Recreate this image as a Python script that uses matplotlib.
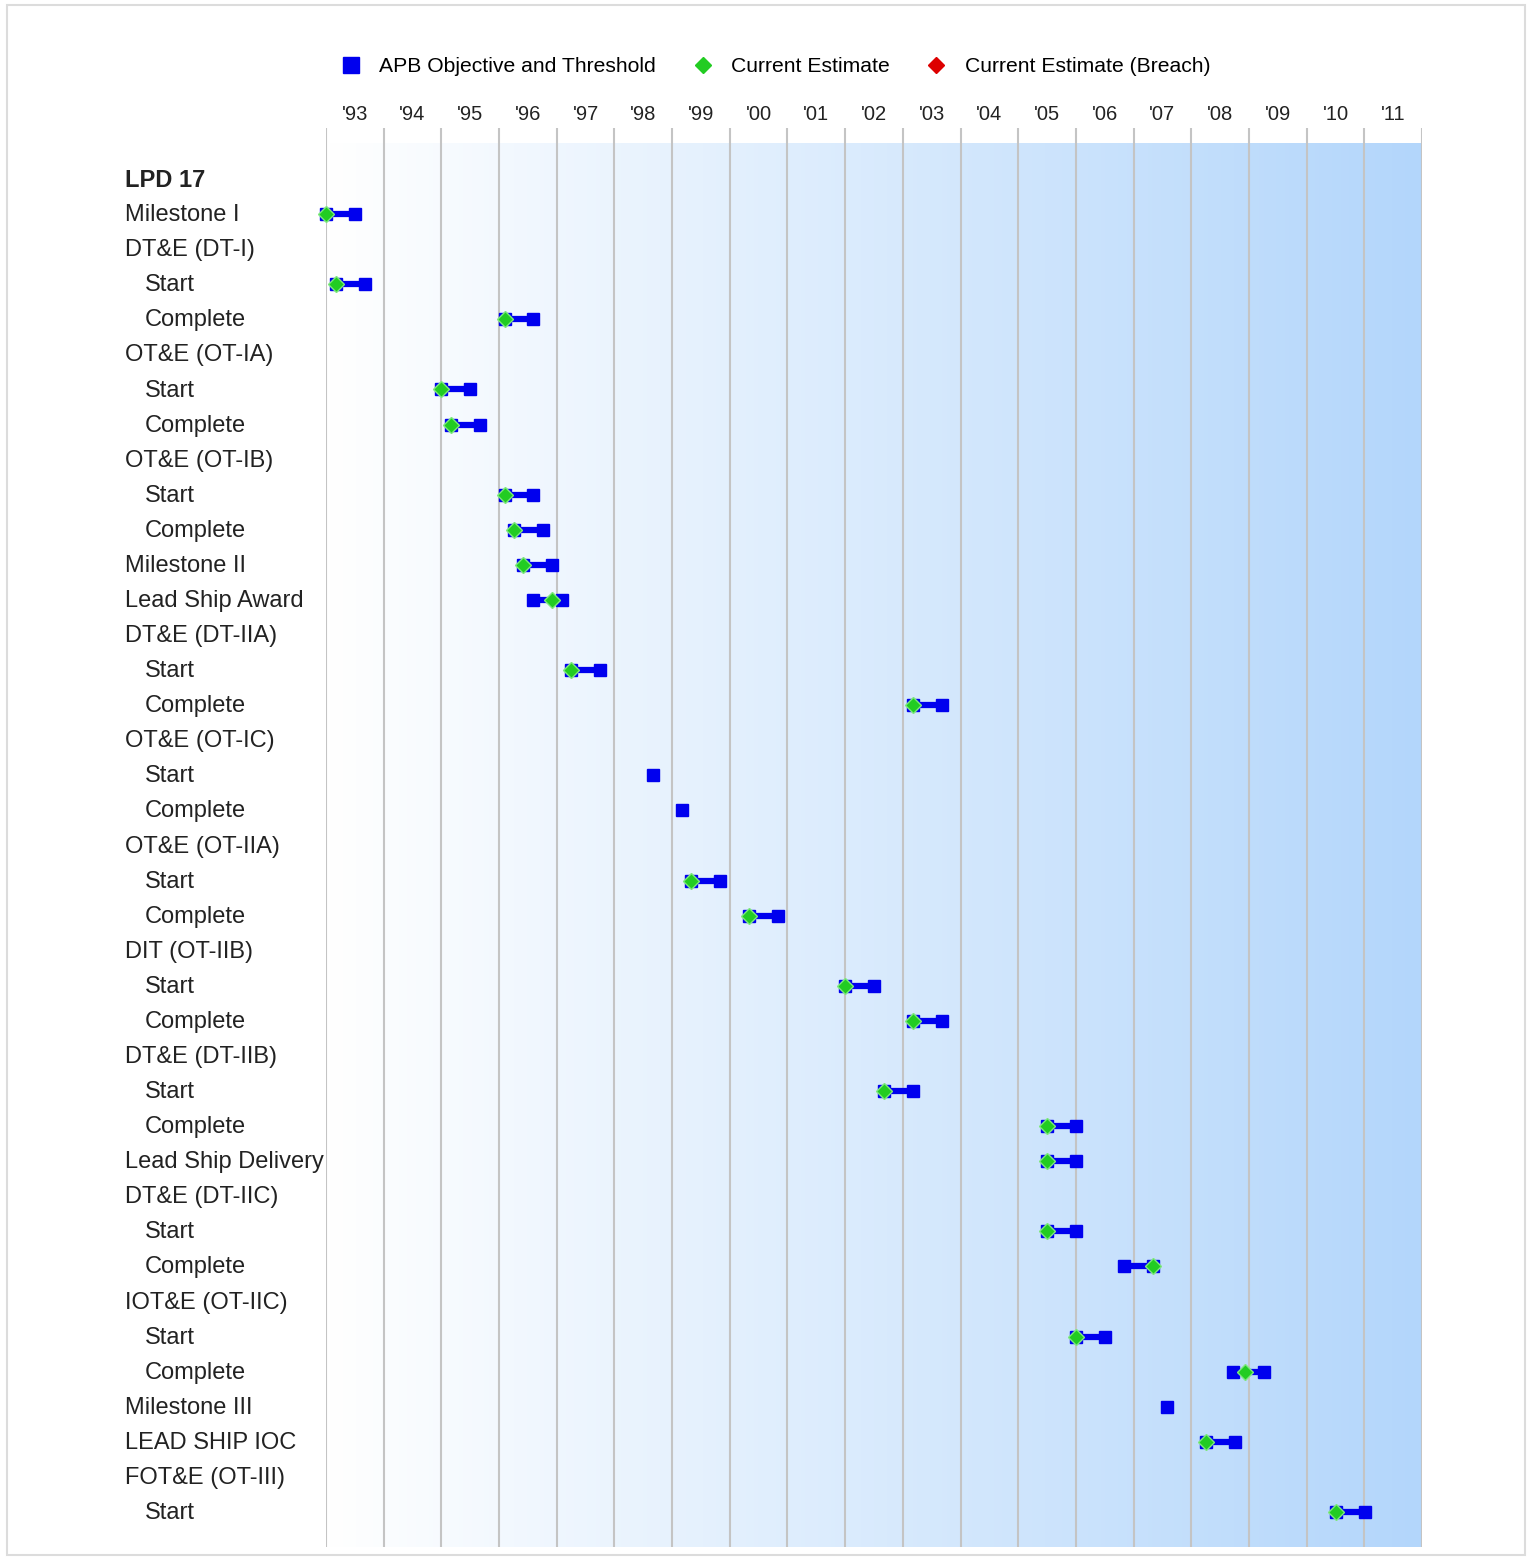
import numpy as np
import matplotlib.pyplot as plt
from matplotlib.patches import Rectangle
from matplotlib.lines import Line2D
from matplotlib.colors import LinearSegmentedColormap
import matplotlib.transforms as mtransforms

nan = np.nan

# -------------------------------- DONNEES ------------------------------------
labels = ["LPD 17", "Milestone I", "DT&E (DT-I)", "Start", "Complete",
          "OT&E (OT-IA)", "Start", "Complete", "OT&E (OT-IB)", "Start", "Complete",
          "Milestone II", "Lead Ship Award", "DT&E (DT-IIA)", "Start", "Complete",
          "OT&E (OT-IC)", "Start", "Complete", "OT&E (OT-IIA)", "Start", "Complete",
          "DIT (OT-IIB)", "Start", "Complete", "DT&E (DT-IIB)", "Start", "Complete",
          "Lead Ship Delivery", "DT&E (DT-IIC)", "Start", "Complete",
          "IOT&E (OT-IIC)", "Start", "Complete", "Milestone III", "LEAD SHIP IOC",
          "FOT&E (OT-III)", "Start"]

# objectif APB (annee decimale)
objective = [nan, 1993.0, nan, 1993.17, 1996.1,
             nan, 1995.0, 1995.17, nan, 1996.1, 1996.26,
             1996.42, 1996.59, nan, 1997.25, 2003.18,
             nan, 1998.67, 1999.17, nan, 1999.33, 2000.33,
             nan, 2002.0, 2003.18, nan, 2002.67, 2005.5,
             2005.5, nan, 2005.5, 2006.84,
             nan, 2006.0, 2008.72, 2007.58, 2008.26,
             nan, 2010.51]

# seuil APB
threshold = [nan, 1993.5, nan, 1993.68, 1996.59,
             nan, 1995.5, 1995.67, nan, 1996.59, 1996.76,
             1996.92, 1997.09, nan, 1997.75, 2003.68,
             nan, nan, nan, nan, 1999.83, 2000.84,
             nan, 2002.5, 2003.68, nan, 2003.18, 2006.0,
             2006.0, nan, 2006.0, 2007.34,
             nan, 2006.5, 2009.26, nan, 2008.76,
             nan, 2011.01]

# estimation courante
current = [nan, 1993.0, nan, 1993.17, 1996.1,
           nan, 1995.0, 1995.17, nan, 1996.1, 1996.26,
           1996.42, 1996.92, nan, 1997.25, 2003.18,
           nan, nan, nan, nan, 1999.33, 2000.33,
           nan, 2002.0, 2003.18, nan, 2002.67, 2005.5,
           2005.5, nan, 2005.5, 2007.34,
           nan, 2006.0, 2008.93, nan, 2008.26,
           nan, 2010.51]

years = list(range(1993, 2012))
year_labels = ["'%02d" % (y % 100) for y in years]

# -------------------------------- FIGURE ------------------------------------
W, H = 1528, 1557
fig = plt.figure(figsize=(W / 100, H / 100), dpi=100)
fig.patches.append(Rectangle((7 / W, 1 - 1555 / H), 1518 / W, 1550 / H,
                             transform=fig.transFigure, fill=False,
                             edgecolor='#dcdcdc', linewidth=1.5))

ax = fig.add_axes([326 / W, 1 - 1547 / H, (1422 - 326) / W, (1547 - 128) / H])
n = len(labels)
ax.set_xlim(1993, 2012)
ax.set_ylim(n, -1.455)
ax.axis('off')

# fond degrade blanc -> bleu
grad = np.linspace(0, 1, 256).reshape(1, -1)
cmap = LinearSegmentedColormap.from_list('bg', ['#ffffff', '#b3d6fb'])
ax.imshow(grad, cmap=cmap, aspect='auto', extent=(1993, 2012, n, -1), zorder=0)

for y in years + [2012]:
    ax.axvline(y, color='#c4c4c4', linewidth=1.5, zorder=1)

blue = '#0000ee'
green = '#22cc22'
for i in range(n):
    o, t, c = objective[i], threshold[i], current[i]
    if not np.isnan(o) and not np.isnan(t):
        ax.plot([o, t], [i, i], color=blue, linewidth=4.5, solid_capstyle='butt',
                zorder=2, clip_on=False)
    ax.plot([o, t], [i, i], 's', color=blue, markersize=9, zorder=3,
            linestyle='none', clip_on=False)
    if not np.isnan(c):
        ax.plot(c, i, 'D', color=green, markersize=8.5, markeredgecolor='#7fe87f',
                markeredgewidth=1, zorder=4, clip_on=False)

# etiquettes des annees
tr = mtransforms.blended_transform_factory(ax.transData, ax.transAxes)
for y, lab in zip(years, year_labels):
    ax.text(y + 0.5, 1 + 14 / 1419, lab, transform=tr, ha='center', va='center',
            fontsize=14.5, family='Liberation Sans', color='#222222')

# etiquettes des lignes
tl = mtransforms.blended_transform_factory(fig.transFigure, ax.transData)
for i, lab in enumerate(labels):
    sub = lab in ("Start", "Complete")
    xpos = (145 if sub else 125) / W
    ax.text(xpos, i + 0.03, lab, transform=tl, ha='left', va='center', fontsize=17,
            family='Liberation Sans', color='#222222',
            fontweight='bold' if i == 0 else 'normal')

# legende
handles = [Line2D([], [], marker='s', color=blue, linestyle='none', markersize=11),
           Line2D([], [], marker='D', color=green, linestyle='none', markersize=8),
           Line2D([], [], marker='D', color='#dd0000', linestyle='none', markersize=8)]
fig.legend(handles, ["APB Objective and Threshold", "Current Estimate", "Current Estimate (Breach)"],
           loc='center left', bbox_to_anchor=(338 / W, 1 - 67 / H), ncol=3, frameon=False,
           prop={'family': 'Liberation Sans', 'size': 15.2},
           handletextpad=0.76, columnspacing=1.6, handlelength=1.2, borderaxespad=0,
           borderpad=0)

fig.savefig('out.png', dpi=100)
